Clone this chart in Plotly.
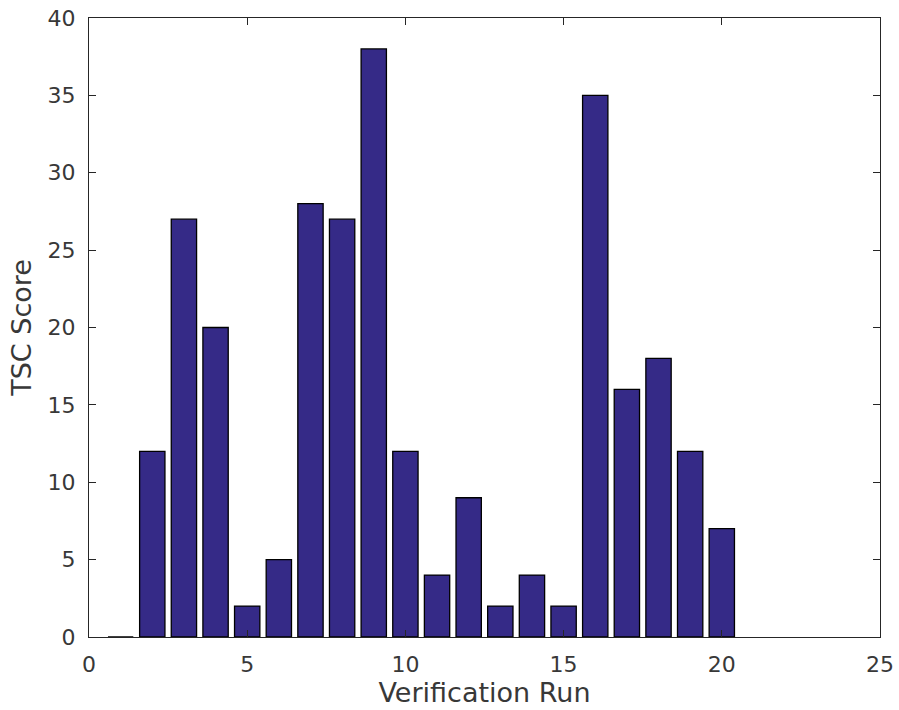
import plotly.graph_objects as go

runs = list(range(1, 21))
scores = [0, 12, 27, 20, 2, 5, 28, 27, 38, 12, 4, 9, 2, 4, 2, 35, 16, 18, 12, 7]
x_ticks = [0, 5, 10, 15, 20, 25]
y_ticks = [0, 5, 10, 15, 20, 25, 30, 35, 40]

TXT = "#383838"

fig = go.Figure()
fig.add_trace(go.Bar(
    x=runs, y=scores, width=0.8,
    marker=dict(color="#352a87", line=dict(color="black", width=1.3)),
))

axis_common = dict(
    showline=True, mirror="ticks", linecolor="#262626", linewidth=1.3,
    ticks="inside", ticklen=7, tickwidth=1.2, tickcolor="#262626",
    showgrid=False, zeroline=False, automargin=False,
    tickfont=dict(family="DejaVu Sans", size=22, color=TXT),
)

fig.update_layout(
    width=899, height=710,
    margin=dict(l=89, r=19, t=18, b=73),
    plot_bgcolor="white", paper_bgcolor="white",
    showlegend=False,
    xaxis=dict(range=[0, 25], tickvals=x_ticks, ticktext=[str(v) for v in x_ticks],
               ticklabelstandoff=7,
               title=dict(text="Verification Run", font=dict(family="DejaVu Sans", size=27, color=TXT), standoff=4),
               **axis_common),
    yaxis=dict(range=[0, 40], tickvals=y_ticks, ticktext=[str(v) for v in y_ticks],
               ticklabelstandoff=8,
               title=dict(text="TSC Score", font=dict(family="DejaVu Sans", size=27, color=TXT), standoff=8),
               **axis_common),
)

fig.write_html("out.html")
